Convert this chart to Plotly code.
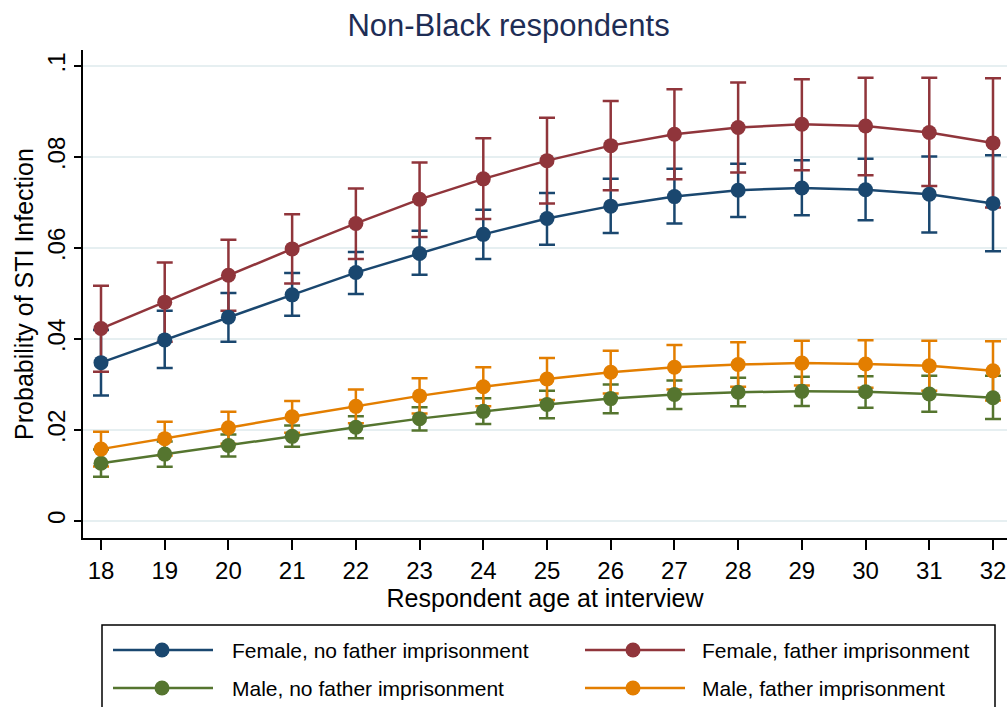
import plotly.graph_objects as go

ages = list(range(18, 33))

fem_no_mean = [0.0348, 0.0398, 0.0448, 0.0497, 0.0546, 0.0588, 0.0630, 0.0665, 0.0692, 0.0713, 0.0727, 0.0732, 0.0728, 0.0718, 0.0698]
fem_no_low = [0.0276, 0.0336, 0.0394, 0.0451, 0.0499, 0.0541, 0.0576, 0.0607, 0.0633, 0.0654, 0.0668, 0.0672, 0.0661, 0.0634, 0.0593]
fem_no_high = [0.0420, 0.0462, 0.0501, 0.0545, 0.0591, 0.0638, 0.0684, 0.0721, 0.0752, 0.0774, 0.0785, 0.0793, 0.0796, 0.0801, 0.0804]

fem_yes_mean = [0.0423, 0.0481, 0.0540, 0.0598, 0.0654, 0.0707, 0.0752, 0.0792, 0.0825, 0.0850, 0.0865, 0.0872, 0.0868, 0.0854, 0.0831]
fem_yes_low = [0.0328, 0.0394, 0.0462, 0.0522, 0.0576, 0.0624, 0.0664, 0.0698, 0.0727, 0.0751, 0.0766, 0.0771, 0.0760, 0.0736, 0.0689]
fem_yes_high = [0.0517, 0.0568, 0.0618, 0.0674, 0.0731, 0.0788, 0.0841, 0.0886, 0.0923, 0.0949, 0.0964, 0.0971, 0.0974, 0.0974, 0.0973]

male_no_mean = [0.0127, 0.0147, 0.0166, 0.0186, 0.0206, 0.0225, 0.0241, 0.0256, 0.0269, 0.0278, 0.0283, 0.0285, 0.0284, 0.0279, 0.0271]
male_no_low = [0.0097, 0.0119, 0.0142, 0.0163, 0.0182, 0.0199, 0.0213, 0.0226, 0.0237, 0.0246, 0.0252, 0.0253, 0.0249, 0.0240, 0.0224]
male_no_high = [0.0157, 0.0175, 0.0190, 0.0210, 0.0230, 0.0250, 0.0270, 0.0286, 0.0300, 0.0309, 0.0315, 0.0317, 0.0318, 0.0319, 0.0319]

male_yes_mean = [0.0158, 0.0181, 0.0205, 0.0229, 0.0252, 0.0275, 0.0295, 0.0312, 0.0327, 0.0338, 0.0344, 0.0347, 0.0345, 0.0341, 0.0330]
male_yes_low = [0.0120, 0.0144, 0.0170, 0.0194, 0.0215, 0.0236, 0.0252, 0.0266, 0.0280, 0.0289, 0.0295, 0.0298, 0.0293, 0.0286, 0.0265]
male_yes_high = [0.0196, 0.0218, 0.0240, 0.0264, 0.0289, 0.0314, 0.0338, 0.0358, 0.0374, 0.0387, 0.0393, 0.0396, 0.0397, 0.0396, 0.0395]

y_tickvals = [0, 0.02, 0.04, 0.06, 0.08, 0.1]
y_ticktext = ["0", ".02", ".04", ".06", ".08", ".1"]

series = [
    ("Female, no father imprisonment", fem_no_mean, fem_no_low, fem_no_high, "#1a476f"),
    ("Female, father imprisonment", fem_yes_mean, fem_yes_low, fem_yes_high, "#90353b"),
    ("Male, no father imprisonment", male_no_mean, male_no_low, male_no_high, "#55752f"),
    ("Male, father imprisonment", male_yes_mean, male_yes_low, male_yes_high, "#e37e00"),
]

FONT = "Liberation Sans, Arial, sans-serif"
fig = go.Figure()

# confidence intervals first (underneath)
for name, m, lo, hi, col in series:
    fig.add_trace(go.Scatter(
        x=ages, y=m, mode="markers",
        marker=dict(size=1, color="rgba(0,0,0,0)"),
        error_y=dict(type="data", symmetric=False,
                     array=[h - v for h, v in zip(hi, m)],
                     arrayminus=[v - l for v, l in zip(m, lo)],
                     color=col, thickness=2.5, width=8),
        showlegend=False, hoverinfo="skip"))

for name, m, lo, hi, col in series:
    fig.add_trace(go.Scatter(
        x=ages, y=m, mode="lines+markers", name=name,
        line=dict(color=col, width=2.5),
        marker=dict(color=col, size=15),
        showlegend=False))

# plot area geometry in pixels
L, R, T, B = 83, 1007, 50, 538
W, H = 1007, 707


def px(x):
    return (x - L) / (R - L)


def py(y):
    return (B - y) / (B - T)


shapes = [dict(type="rect", xref="paper", yref="paper",
               x0=px(102), x1=px(995), y0=py(625), y1=py(730),
               line=dict(color="black", width=1.5), fillcolor="white", layer="above")]
annotations = []
entries = [
    (0, 650, series[0]), (1, 650, series[1]),
    (0, 688, series[2]), (1, 688, series[3]),
]
cols = [(113, 213, 162, 230), (585, 685, 633, 700)]
for c, yy, (name, m, lo, hi, col) in entries:
    x0, x1, xm, xt = cols[c]
    shapes.append(dict(type="line", xref="paper", yref="paper",
                       x0=px(x0), x1=px(x1), y0=py(yy), y1=py(yy),
                       line=dict(color=col, width=2.5), layer="above"))
    shapes.append(dict(type="circle", xref="paper", yref="paper",
                       xsizemode="pixel", ysizemode="pixel",
                       xanchor=px(xm), yanchor=py(yy),
                       x0=-7.5, x1=7.5, y0=-7.5, y1=7.5,
                       fillcolor=col, line=dict(color=col, width=0), layer="above"))
    annotations.append(dict(text=name, xref="paper", yref="paper",
                            x=px(xt), y=py(yy), xanchor="left", yanchor="middle",
                            showarrow=False, font=dict(family=FONT, size=21, color="black")))

fig.update_layout(
    width=W, height=H, autosize=False,
    margin=dict(l=L, r=W - R, t=T, b=H - B),
    paper_bgcolor="white", plot_bgcolor="white",
    font=dict(family=FONT, color="black"),
    title=dict(text="Non-Black respondents", x=0.505, xanchor="center",
               xref="container", yref="container", y=1 - 25 / H, yanchor="middle",
               font=dict(family=FONT, size=31, color="#1e2d55")),
    shapes=shapes, annotations=annotations,
    showlegend=False,
)

fig.update_xaxes(
    range=[18 - (101 - L) / 63.71, 32 + (R - 993) / 63.71],
    tickvals=ages, ticktext=[str(a) for a in ages],
    showgrid=False, zeroline=False,
    showline=True, linecolor="black", linewidth=1.5,
    ticks="outside", ticklen=10, tickwidth=1.5, tickcolor="black",
    tickfont=dict(family=FONT, size=24, color="black"),
    title=dict(text="Respondent age at interview", standoff=4,
               font=dict(family=FONT, size=25, color="black")),
)
fig.update_yaxes(
    range=[(521 - B) / 4550, (521 - T) / 4550],
    tickvals=y_tickvals, ticktext=y_ticktext,
    showgrid=True, gridcolor="#e6eff1", gridwidth=2, zeroline=False,
    showline=True, linecolor="black", linewidth=1.5,
    ticks="outside", ticklen=7, tickwidth=1.5, tickcolor="black",
    tickangle=-90,
    tickfont=dict(family=FONT, size=24, color="black"),
    title=dict(text="Probability of STI Infection", standoff=2,
               font=dict(family=FONT, size=25, color="black")),
)

fig.write_html("out.html", config={"displayModeBar": False},
               post_script="document.body.style.margin='0';document.body.style.overflow='hidden';")
